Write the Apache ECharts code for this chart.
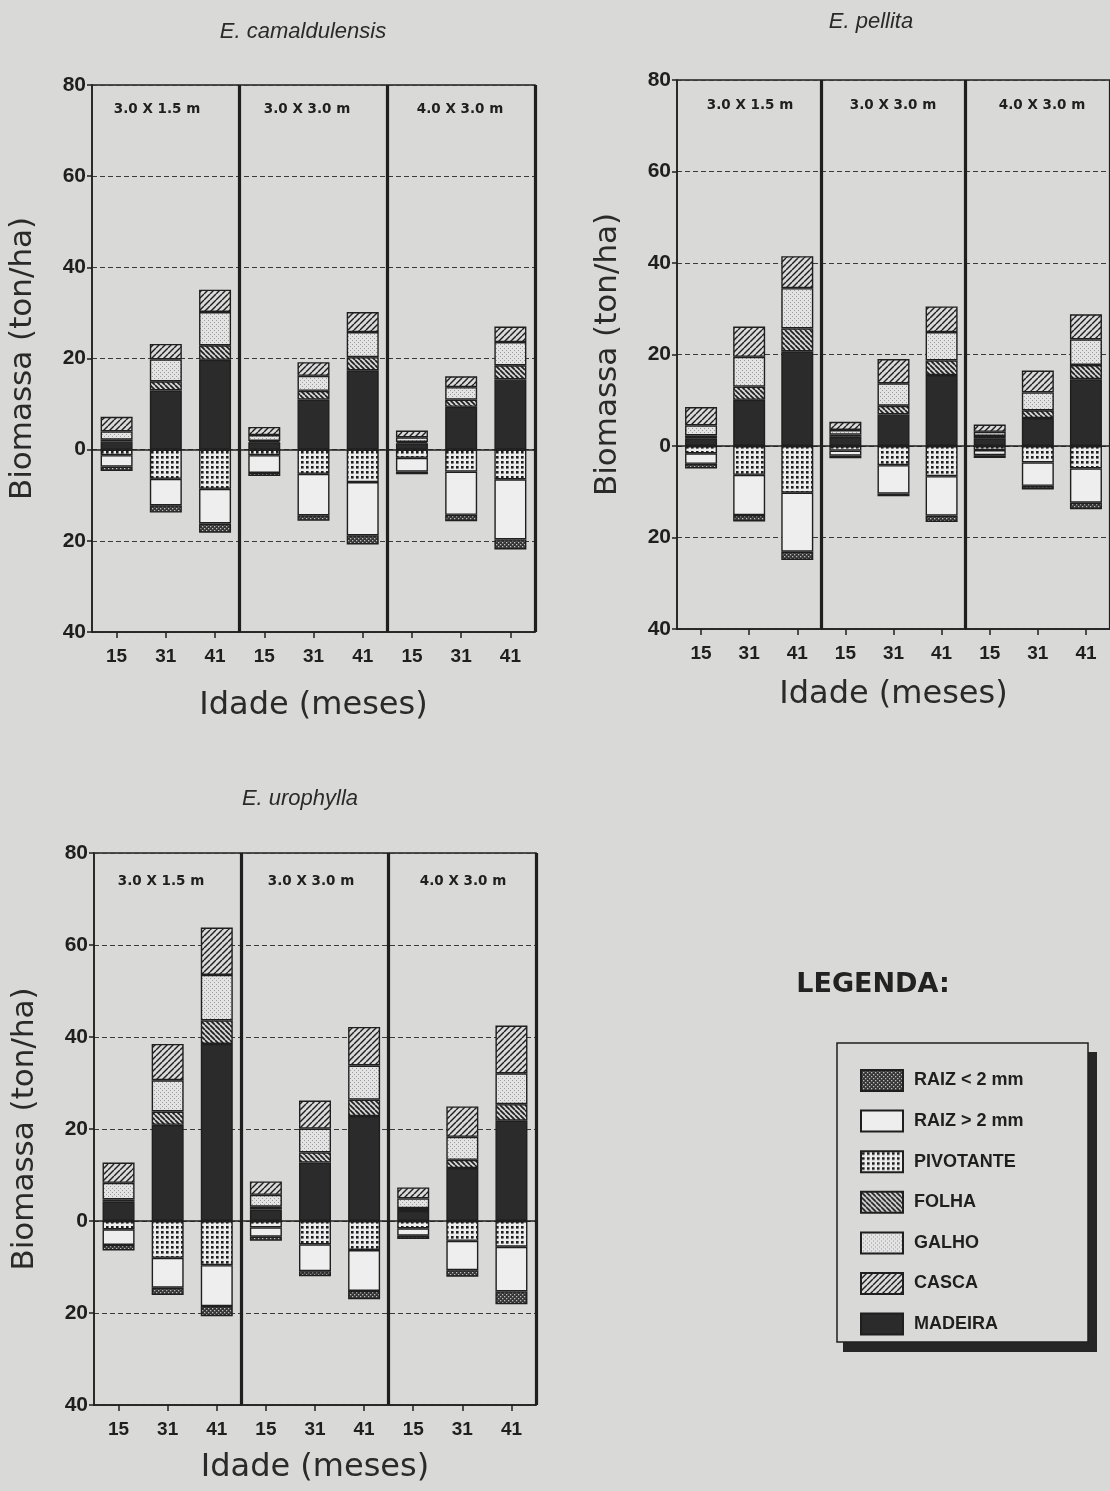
<!DOCTYPE html>
<html>
<head>
<meta charset="utf-8">
<script src="https://cdn.jsdelivr.net/npm/echarts@6/dist/echarts.min.js"></script>
<style>
  html, body { margin: 0; padding: 0; background: #d9d9d7; }
  #chart { width: 1110px; height: 1491px; }
</style>
</head>
<body>
<div id="chart"></div>
<script>
// ---------- DATA ----------
const categories = ['15', '31', '41', '15', '31', '41', '15', '31', '41'];
const groupLabels = ['3.0 X 1.5 m', '3.0 X 3.0 m', '4.0 X 3.0 m'];
const panelTitles = ['E. camaldulensis', 'E. pellita', 'E. urophylla'];
const seriesNames = ['MADEIRA', 'FOLHA', 'GALHO', 'CASCA', 'PIVOTANTE', 'RAIZ > 2 mm', 'RAIZ < 2 mm'];
const legendOrder = ['RAIZ < 2 mm', 'RAIZ > 2 mm', 'PIVOTANTE', 'FOLHA', 'GALHO', 'CASCA', 'MADEIRA'];

// E. camaldulensis (ton/ha)
const camMadeira = [1.8, 13.0, 19.7, 1.6, 11.0, 17.4, 1.4, 9.4, 15.4];
const camFolha   = [0.4, 2.0, 3.2, 0.3, 1.9, 2.9, 0.3, 1.6, 3.1];
const camGalho   = [1.8, 4.8, 7.3, 1.3, 3.3, 5.5, 1.0, 2.7, 5.1];
const camCasca   = [3.2, 3.4, 4.9, 1.8, 3.0, 4.4, 1.5, 2.4, 3.4];
const camPivot   = [1.2, 6.4, 8.6, 1.2, 5.3, 7.1, 1.8, 4.8, 6.5];
const camRaizG   = [2.5, 5.8, 7.6, 3.9, 9.1, 11.7, 3.0, 9.5, 13.2];
const camRaizF   = [1.0, 1.6, 2.0, 0.7, 1.2, 2.0, 0.6, 1.4, 2.2];

// E. pellita
const pelMadeira = [1.7, 10.1, 20.7, 2.0, 6.9, 15.5, 1.7, 6.1, 14.6];
const pelFolha   = [0.6, 2.9, 5.0, 0.5, 1.9, 3.2, 0.5, 1.7, 3.1];
const pelGalho   = [2.2, 6.5, 8.8, 1.0, 4.9, 6.2, 0.9, 3.9, 5.6];
const pelCasca   = [4.0, 6.6, 7.0, 1.8, 5.3, 5.6, 1.6, 4.8, 5.5];
const pelPivot   = [1.6, 6.3, 10.2, 1.0, 4.2, 6.6, 0.9, 3.6, 4.9];
const pelRaizG   = [2.3, 8.8, 12.9, 1.1, 6.2, 8.6, 1.1, 5.1, 7.5];
const pelRaizF   = [1.0, 1.4, 1.8, 0.6, 0.6, 1.4, 0.6, 0.8, 1.4];

// E. urophylla
const uroMadeira = [4.2, 20.9, 38.5, 2.5, 12.7, 22.8, 2.2, 11.5, 21.8];
const uroFolha   = [0.5, 2.9, 5.1, 0.6, 2.2, 3.6, 0.6, 1.8, 3.6];
const uroGalho   = [3.6, 6.8, 9.9, 2.6, 5.2, 7.4, 2.1, 5.0, 6.7];
const uroCasca   = [4.4, 7.9, 10.3, 2.9, 6.1, 8.4, 2.4, 6.6, 10.4];
const uroPivot   = [1.8, 8.0, 9.6, 1.4, 5.1, 6.3, 1.6, 4.3, 5.6];
const uroRaizG   = [3.4, 6.5, 8.9, 2.0, 5.8, 8.9, 1.6, 6.4, 9.7];
const uroRaizF   = [1.2, 1.6, 2.2, 0.9, 1.1, 1.8, 0.7, 1.4, 2.8];

const panels = [
  [camMadeira, camFolha, camGalho, camCasca, camPivot, camRaizG, camRaizF],
  [pelMadeira, pelFolha, pelGalho, pelCasca, pelPivot, pelRaizG, pelRaizF],
  [uroMadeira, uroFolha, uroGalho, uroCasca, uroPivot, uroRaizG, uroRaizF]
];
const negative = [false, false, false, false, true, true, true];

// ---------- PATTERNS ----------
function makePattern(size, draw) {
  const c = document.createElement('canvas');
  c.width = size; c.height = size;
  const ctx = c.getContext('2d');
  draw(ctx, size);
  return { image: c, repeat: 'repeat' };
}
const INK = '#1f1f1f';
const fills = {
  'MADEIRA': '#2b2b2b',
  'FOLHA': makePattern(5, (ctx, s) => {
    ctx.fillStyle = '#d6d6d6'; ctx.fillRect(0, 0, s, s);
    ctx.strokeStyle = INK; ctx.lineWidth = 1.7;
    for (const k of [-s, 0, s]) { ctx.beginPath(); ctx.moveTo(k, 0); ctx.lineTo(k + s, s); ctx.stroke(); }
  }),
  'GALHO': makePattern(4, (ctx, s) => {
    ctx.fillStyle = '#e3e3e3'; ctx.fillRect(0, 0, s, s);
    ctx.fillStyle = '#9c9c9c'; ctx.fillRect(0, 0, 1, 1); ctx.fillRect(2, 2, 1, 1);
  }),
  'CASCA': makePattern(6, (ctx, s) => {
    ctx.fillStyle = '#dadada'; ctx.fillRect(0, 0, s, s);
    ctx.strokeStyle = INK; ctx.lineWidth = 1.4;
    for (const k of [-s, 0, s]) { ctx.beginPath(); ctx.moveTo(k, s); ctx.lineTo(k + s, 0); ctx.stroke(); }
  }),
  'PIVOTANTE': makePattern(5, (ctx, s) => {
    ctx.fillStyle = '#ededed'; ctx.fillRect(0, 0, s, s);
    ctx.fillStyle = INK; ctx.fillRect(1, 1, 2.6, 2.6);
  }),
  'RAIZ > 2 mm': '#eeeeee',
  'RAIZ < 2 mm': makePattern(4, (ctx, s) => {
    ctx.fillStyle = '#363636'; ctx.fillRect(0, 0, s, s);
    ctx.fillStyle = '#bdbdbd'; ctx.fillRect(0, 0, 1.3, 1.3); ctx.fillRect(2, 2, 1.3, 1.3);
  })
};

// ---------- LAYOUT ----------
const grids = [
  { left: 92, top: 85, width: 443, height: 547 },
  { left: 677, top: 80, width: 441, height: 549 },
  { left: 94, top: 853, width: 442, height: 552 }
];
const xNameGap = [58, 50, 47];
const titlePos = [[298, 16], [866, 6], [295, 783]];
const groupLabelPos = [
  [[157, 109], [307, 109], [460, 109]],
  [[750, 105], [893, 105], [1042, 105]],
  [[161, 881], [311, 881], [463, 881]]
];

const option = {
  backgroundColor: '#d9d9d7',
  animation: false,
  grid: grids.map(g => Object.assign({ show: true, borderColor: INK, borderWidth: 1.5, backgroundColor: 'transparent' }, g)),
  xAxis: grids.map((g, i) => ({
    type: 'category', gridIndex: i, data: categories,
    axisLine: { show: true, onZero: false, lineStyle: { color: INK, width: 1.5 } },
    axisTick: { show: true, alignWithLabel: true, length: 6, lineStyle: { color: INK, width: 1.5 } },
    axisLabel: { color: INK, fontFamily: 'Liberation Sans', fontWeight: 'bold', fontSize: 19, margin: 15 },
    splitLine: { show: true, interval: (idx) => idx === 3 || idx === 6, lineStyle: { color: INK, width: 3.2, type: 'solid' } },
    name: 'Idade (meses)', nameLocation: 'middle', nameGap: xNameGap[i],
    nameTextStyle: { color: '#2a2a2a', fontFamily: 'DejaVu Sans', fontSize: 32 }
  })),
  yAxis: grids.map((g, i) => ({
    type: 'value', gridIndex: i, min: -40, max: 80, interval: 20,
    axisLine: { show: true, lineStyle: { color: INK, width: 1.5 } },
    axisTick: { show: true, length: 5, lineStyle: { color: INK, width: 1.5 } },
    axisLabel: { color: INK, fontFamily: 'Liberation Sans', fontWeight: 'bold', fontSize: 21, margin: 6,
                 formatter: v => String(Math.abs(v)) },
    splitLine: { show: true, lineStyle: { color: '#3a3a3a', width: 1.2, type: [5, 3] } },
    name: 'Biomassa (ton/ha)', nameLocation: 'middle', nameGap: 54, nameRotate: 90,
    nameTextStyle: { color: '#2a2a2a', fontFamily: 'DejaVu Sans', fontSize: 31 }
  })),
  title: panelTitles.map((t, i) => ({
    text: t, left: titlePos[i][0], top: titlePos[i][1], textAlign: 'center',
    textStyle: { fontFamily: 'Liberation Sans', fontStyle: 'italic', fontWeight: 'normal', fontSize: 22, color: '#2a2a2a' }
  })),
  legend: {
    data: legendOrder, orient: 'vertical', left: 855, top: 1064,
    itemWidth: 42, itemHeight: 21, itemGap: 17.6, icon: 'rect', selectedMode: false,
    textStyle: { color: INK, fontFamily: 'Liberation Sans', fontWeight: 'bold', fontSize: 18, padding: [0, 0, 0, 6] }
  },
  graphic: [],
  series: []
};

// group labels
groupLabelPos.forEach(row => row.forEach((p, j) => {
  option.graphic.push({
    type: 'text', x: p[0], y: p[1], z: 10,
    style: { text: groupLabels[j], textAlign: 'center', textVerticalAlign: 'middle',
             fill: INK, font: 'bold 13.5px "DejaVu Sans"' }
  });
}));
// legend box with shadow + heading
option.graphic.push(
  { type: 'rect', z: 1, shape: { x: 843, y: 1052, width: 254, height: 300 }, style: { fill: '#262626' } },
  { type: 'rect', z: 2, shape: { x: 837, y: 1043, width: 251, height: 299 }, style: { fill: '#d9d9d7', stroke: INK, lineWidth: 1.5 } },
  { type: 'text', z: 3, x: 873, y: 985, style: { text: 'LEGENDA:', textAlign: 'center', textVerticalAlign: 'middle',
      fill: '#222', font: 'bold 27px "DejaVu Sans"' } }
);

// series
panels.forEach((arrs, p) => {
  arrs.forEach((arr, k) => {
    const name = seriesNames[k];
    const s = {
      name, type: 'bar', stack: 'total' + p, xAxisIndex: p, yAxisIndex: p,
      barWidth: 32,
      data: arr.map(v => negative[k] ? -v : v),
      itemStyle: { color: fills[name], borderColor: INK, borderWidth: 1.4 },
      emphasis: { disabled: true }
    };
    if (k === 0) {
      s.markLine = {
        silent: true, symbol: ['none', 'none'], label: { show: false },
        lineStyle: { color: INK, width: 1.6, type: 'solid' },
        data: [{ yAxis: 0 }]
      };
    }
    option.series.push(s);
  });
});

const chart = echarts.init(document.getElementById('chart'));
chart.setOption(option);
</script>
</body>
</html>
